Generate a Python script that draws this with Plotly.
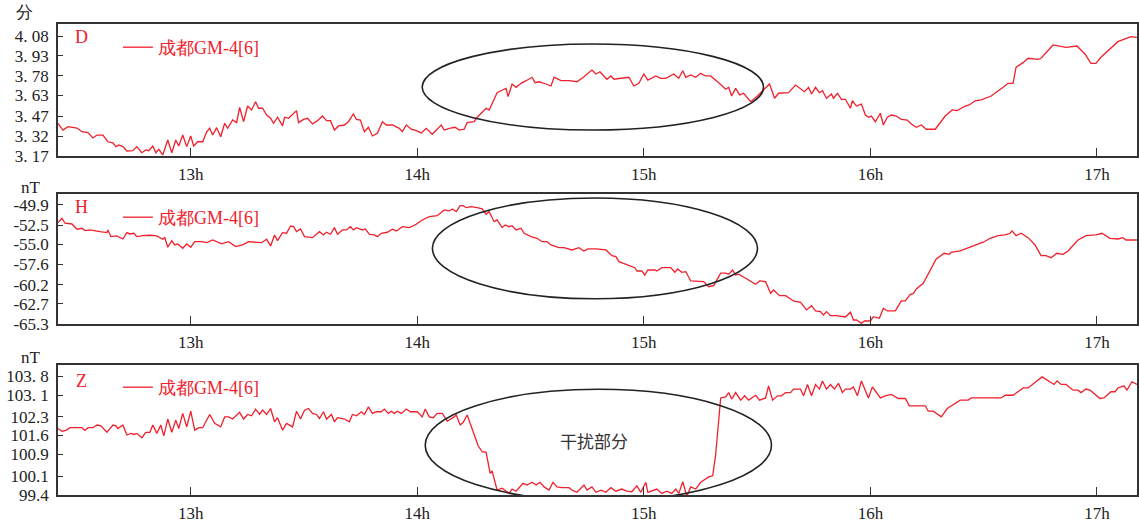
import plotly.graph_objects as go
from plotly.subplots import make_subplots

# ---- data (time in minutes after 12:00) ----
D_time = [24.85, 26.17, 27.49, 29.87, 31.19, 32.78, 34.10, 35.16, 36.74, 38.06, 39.39, 40.18, 40.97, 42.03, 43.09, 44.67, 45.73, 47.05, 48.11, 48.90, 49.96, 50.75, 51.54, 52.60, 53.92, 54.98, 56.04, 56.83, 57.89, 58.94, 60.00, 60.79, 61.85, 63.17, 64.23, 65.02, 65.82, 66.87, 67.93, 68.99, 69.78, 71.10, 72.16, 72.95, 74.01, 75.07, 76.12, 77.18, 77.97, 79.03, 80.09, 81.15, 81.94, 82.99, 84.32, 84.85, 85.90, 88.02, 88.55, 89.87, 90.93, 92.25, 93.57, 94.89, 95.95, 97.01, 98.06, 99.12, 100.71, 101.76, 103.08, 103.88, 104.93, 105.99, 107.05, 108.11, 109.43, 110.75, 111.81, 113.39, 115.24, 116.03, 117.09, 118.41, 119.73, 121.06, 122.38, 123.96, 126.34, 127.13, 128.46, 130.04, 131.10, 132.42, 133.21, 135.06, 135.86, 138.23, 139.03, 141.14, 143.00, 143.52, 144.05, 145.11, 146.16, 147.48, 148.81, 150.39, 151.19, 152.24, 154.09, 155.41, 156.21, 158.06, 160.17, 162.29, 164.14, 166.25, 167.31, 168.37, 170.22, 171.27, 172.07, 174.18, 176.03, 177.35, 178.68, 180.00, 181.06, 183.17, 184.49, 185.81, 187.92, 189.24, 190.30, 191.09, 192.42, 193.74, 195.06, 196.38, 197.70, 199.82, 201.67, 202.46, 203.25, 204.31, 205.37, 206.42, 208.27, 209.86, 211.97, 213.29, 214.62, 215.67, 218.32, 220.17, 222.55, 223.61, 224.40, 225.46, 226.51, 227.31, 228.36, 229.69, 230.21, 231.27, 232.33, 233.38, 234.70, 235.23, 236.29, 237.61, 238.67, 239.46, 240.25, 241.31, 242.63, 243.43, 244.48, 245.54, 246.86, 248.18, 249.77, 250.83, 252.15, 253.47, 254.79, 257.17, 259.81, 261.66, 262.98, 265.10, 266.15, 267.74, 269.33, 271.97, 275.14, 276.46, 277.78, 278.58, 280.43, 281.75, 284.39, 285.19, 288.36, 289.68, 291.80, 294.70, 296.82, 298.40, 299.72, 301.05, 305.54, 308.98, 310.57]
D_val = [3.418, 3.367, 3.392, 3.382, 3.354, 3.347, 3.307, 3.329, 3.329, 3.278, 3.269, 3.241, 3.254, 3.241, 3.208, 3.210, 3.241, 3.195, 3.216, 3.210, 3.246, 3.195, 3.221, 3.178, 3.291, 3.195, 3.291, 3.246, 3.329, 3.241, 3.322, 3.246, 3.278, 3.278, 3.354, 3.380, 3.329, 3.385, 3.316, 3.418, 3.380, 3.443, 3.423, 3.539, 3.430, 3.549, 3.519, 3.582, 3.532, 3.532, 3.481, 3.456, 3.418, 3.464, 3.398, 3.464, 3.456, 3.514, 3.423, 3.448, 3.456, 3.413, 3.438, 3.473, 3.438, 3.438, 3.367, 3.398, 3.405, 3.430, 3.489, 3.448, 3.443, 3.354, 3.388, 3.322, 3.342, 3.430, 3.405, 3.405, 3.380, 3.354, 3.405, 3.373, 3.362, 3.345, 3.380, 3.335, 3.405, 3.367, 3.380, 3.388, 3.367, 3.373, 3.423, 3.430, 3.464, 3.532, 3.519, 3.650, 3.676, 3.683, 3.620, 3.716, 3.691, 3.721, 3.741, 3.767, 3.726, 3.733, 3.716, 3.701, 3.767, 3.741, 3.741, 3.733, 3.771, 3.822, 3.792, 3.809, 3.752, 3.777, 3.752, 3.759, 3.767, 3.701, 3.721, 3.792, 3.746, 3.777, 3.759, 3.759, 3.792, 3.759, 3.817, 3.767, 3.784, 3.767, 3.797, 3.777, 3.777, 3.726, 3.676, 3.691, 3.625, 3.683, 3.633, 3.646, 3.582, 3.620, 3.676, 3.716, 3.608, 3.646, 3.650, 3.708, 3.658, 3.691, 3.640, 3.691, 3.650, 3.665, 3.608, 3.640, 3.608, 3.646, 3.600, 3.600, 3.532, 3.589, 3.549, 3.564, 3.481, 3.464, 3.473, 3.430, 3.494, 3.405, 3.464, 3.481, 3.473, 3.448, 3.443, 3.413, 3.388, 3.405, 3.373, 3.373, 3.473, 3.519, 3.514, 3.549, 3.557, 3.589, 3.595, 3.625, 3.691, 3.721, 3.721, 3.843, 3.878, 3.911, 3.903, 3.911, 4.012, 4.004, 3.994, 4.004, 3.944, 3.873, 3.873, 3.919, 4.037, 4.075, 4.070]

H_time = [24.85, 25.91, 26.70, 28.55, 29.87, 31.19, 31.99, 33.31, 35.95, 37.80, 38.06, 38.86, 40.44, 42.03, 43.09, 43.88, 44.94, 45.73, 47.31, 49.17, 51.02, 52.60, 53.13, 53.92, 54.98, 55.77, 56.57, 57.89, 58.94, 60.00, 61.06, 62.91, 64.23, 65.82, 68.19, 70.04, 71.89, 73.74, 75.33, 77.45, 78.77, 80.09, 81.15, 82.20, 82.99, 84.32, 85.38, 86.43, 87.22, 88.02, 89.08, 90.13, 92.25, 94.10, 95.15, 95.95, 97.01, 98.06, 98.86, 100.18, 101.23, 102.29, 103.08, 103.88, 105.46, 106.26, 107.31, 108.63, 109.43, 110.48, 112.07, 113.39, 114.45, 116.03, 117.88, 119.73, 121.32, 123.17, 125.28, 127.13, 128.46, 129.25, 130.31, 131.36, 132.16, 132.95, 134.27, 135.86, 137.18, 138.23, 139.03, 140.35, 141.14, 142.46, 143.26, 144.31, 145.11, 146.16, 147.48, 148.28, 150.13, 151.71, 153.04, 154.36, 155.41, 157.53, 158.85, 160.96, 162.81, 164.14, 165.19, 167.31, 169.95, 171.54, 172.60, 173.39, 175.24, 177.62, 178.15, 179.47, 180.26, 181.06, 182.91, 183.43, 184.76, 187.14, 188.19, 188.99, 190.04, 191.10, 192.42, 193.74, 195.06, 195.85, 197.17, 198.50, 200.35, 201.67, 202.46, 203.52, 204.31, 205.11, 206.96, 209.60, 210.66, 212.24, 213.56, 214.35, 215.94, 217.53, 219.64, 221.49, 223.08, 224.40, 225.46, 226.78, 227.57, 228.37, 229.43, 231.01, 233.39, 234.71, 235.51, 236.30, 237.62, 238.41, 240.00, 240.79, 242.38, 243.43, 244.49, 246.60, 248.19, 249.25, 250.57, 251.36, 252.15, 253.99, 257.43, 259.54, 260.87, 261.40, 263.77, 268.01, 269.86, 271.71, 273.82, 275.67, 276.99, 277.52, 278.58, 279.90, 281.75, 283.60, 285.19, 286.51, 287.84, 289.42, 291.01, 292.33, 294.97, 297.09, 299.73, 301.32, 303.43, 305.55, 306.87, 307.66, 310.57]
H_val = [-52.19, -51.62, -52.26, -52.36, -53.04, -52.91, -53.22, -53.13, -53.35, -53.48, -53.13, -54.00, -53.91, -54.30, -53.48, -53.65, -53.56, -54.00, -53.87, -53.82, -53.91, -54.34, -54.13, -55.37, -54.52, -55.07, -54.94, -55.50, -54.94, -55.37, -54.65, -54.65, -54.78, -54.43, -54.94, -54.65, -55.29, -55.07, -54.65, -54.72, -54.78, -54.34, -55.20, -53.78, -54.52, -53.48, -53.56, -52.62, -52.71, -53.35, -53.00, -54.00, -54.13, -53.35, -53.78, -53.43, -53.69, -52.83, -53.69, -53.13, -53.13, -52.71, -53.13, -52.83, -53.13, -53.00, -53.69, -53.78, -54.00, -53.56, -53.43, -53.04, -53.26, -52.71, -52.83, -52.39, -51.84, -51.41, -51.28, -50.54, -50.67, -50.41, -50.76, -49.99, -49.99, -50.25, -50.12, -50.25, -50.41, -51.10, -50.76, -52.06, -51.84, -52.83, -52.49, -52.71, -52.58, -53.13, -52.91, -53.56, -54.00, -54.21, -54.65, -54.65, -55.07, -55.42, -55.42, -55.72, -55.42, -55.85, -55.59, -55.59, -55.72, -56.46, -56.59, -57.23, -57.57, -58.01, -58.44, -58.44, -58.96, -58.31, -58.31, -58.44, -58.01, -58.01, -58.61, -58.18, -58.61, -58.53, -59.73, -59.73, -59.82, -59.82, -60.47, -60.34, -58.73, -58.73, -58.86, -58.31, -58.96, -58.86, -59.38, -60.16, -59.73, -59.82, -61.32, -60.90, -61.63, -61.63, -62.32, -62.49, -63.48, -62.93, -63.61, -63.70, -64.13, -63.70, -64.22, -64.22, -64.39, -63.78, -64.78, -64.78, -65.21, -64.91, -64.91, -64.35, -64.56, -63.26, -63.61, -63.61, -62.32, -62.32, -61.45, -61.37, -60.77, -60.03, -56.88, -56.15, -56.28, -56.02, -55.85, -55.07, -54.72, -54.21, -53.87, -53.78, -53.56, -53.26, -53.87, -53.56, -54.13, -55.07, -56.46, -56.46, -56.72, -56.15, -56.28, -55.85, -54.43, -53.87, -53.78, -53.56, -54.21, -54.30, -54.13, -54.43, -54.43]

Z_time = [24.85, 25.91, 26.96, 28.02, 31.19, 31.99, 32.78, 34.10, 35.16, 36.21, 37.80, 39.39, 40.18, 40.71, 42.03, 43.09, 44.14, 44.94, 45.73, 47.05, 48.11, 49.17, 49.96, 51.02, 52.07, 52.87, 53.92, 54.98, 56.04, 56.83, 57.89, 58.94, 60.00, 61.06, 62.12, 63.17, 65.02, 66.34, 67.93, 68.99, 70.04, 71.10, 72.95, 74.01, 75.07, 76.12, 77.18, 78.24, 79.03, 80.09, 81.15, 82.20, 82.99, 84.32, 85.38, 86.96, 88.02, 89.08, 90.13, 91.19, 92.25, 93.31, 94.10, 95.15, 95.95, 97.27, 98.06, 98.86, 100.71, 102.03, 102.82, 103.88, 105.20, 105.99, 107.05, 108.11, 109.16, 110.48, 111.28, 112.33, 113.13, 113.92, 114.71, 115.77, 117.09, 118.15, 120.00, 121.32, 122.11, 123.17, 124.23, 125.28, 126.61, 127.93, 129.78, 130.31, 131.37, 132.16, 133.21, 136.12, 137.18, 138.23, 139.29, 139.82, 141.14, 142.46, 144.31, 145.11, 146.16, 146.96, 148.01, 149.07, 150.39, 151.45, 152.51, 153.57, 154.89, 155.94, 157.00, 158.32, 160.17, 160.97, 162.29, 164.14, 164.93, 166.25, 167.31, 168.63, 169.95, 171.27, 172.60, 174.18, 175.50, 176.82, 178.15, 179.21, 180.53, 181.06, 182.65, 183.44, 184.76, 186.08, 187.40, 188.46, 189.25, 190.31, 191.10, 191.36, 192.42, 193.74, 195.06, 196.38, 197.17, 198.23, 199.02, 200.35, 201.67, 202.46, 203.26, 204.31, 205.64, 206.69, 207.75, 209.60, 210.66, 212.24, 213.03, 214.09, 215.41, 216.47, 217.53, 218.85, 219.64, 221.49, 222.28, 223.34, 224.40, 225.46, 226.51, 227.31, 228.37, 229.42, 230.48, 231.54, 232.60, 233.39, 234.71, 235.51, 236.56, 237.62, 238.41, 239.47, 240.53, 242.64, 243.96, 245.55, 247.40, 249.25, 250.31, 254.54, 255.33, 256.65, 258.77, 260.35, 263.79, 265.90, 266.70, 274.63, 275.69, 277.80, 280.44, 281.76, 285.46, 288.64, 289.43, 290.49, 291.81, 293.66, 294.98, 295.78, 297.10, 298.16, 300.80, 301.86, 303.71, 304.77, 305.56, 307.15, 307.94, 309.26, 310.58]
Z_val = [101.86, 101.76, 101.79, 101.89, 101.89, 101.79, 101.89, 101.89, 101.99, 101.96, 101.72, 101.99, 101.96, 101.86, 101.99, 101.62, 101.68, 101.64, 101.68, 101.52, 101.72, 101.72, 101.99, 101.68, 101.99, 101.59, 102.21, 101.72, 102.17, 101.86, 102.42, 101.92, 102.50, 101.80, 101.89, 101.89, 102.38, 102.05, 101.92, 102.29, 102.29, 102.21, 102.46, 102.21, 102.38, 102.33, 102.58, 102.38, 102.54, 102.38, 102.60, 102.11, 102.26, 101.80, 102.05, 101.92, 102.50, 102.21, 102.54, 102.60, 102.42, 102.38, 102.23, 102.48, 102.21, 102.38, 102.11, 102.26, 102.21, 102.11, 102.38, 102.33, 102.48, 102.38, 102.66, 102.42, 102.48, 102.48, 102.58, 102.42, 102.50, 102.42, 102.50, 102.42, 102.58, 102.48, 102.48, 102.29, 102.58, 102.29, 102.26, 102.42, 102.42, 102.13, 102.29, 102.36, 101.99, 102.09, 102.36, 101.22, 101.00, 100.98, 100.20, 100.29, 99.58, 99.65, 99.46, 99.62, 99.54, 99.65, 99.83, 99.77, 99.87, 99.77, 99.87, 99.70, 99.58, 99.87, 99.70, 99.67, 99.67, 99.58, 99.50, 99.77, 99.58, 99.70, 99.50, 99.58, 99.50, 99.67, 99.54, 99.62, 99.54, 99.52, 99.74, 99.50, 99.87, 99.50, 99.58, 99.62, 99.46, 99.54, 99.46, 99.62, 99.46, 99.89, 99.50, 99.35, 99.70, 99.62, 99.87, 99.99, 100.07, 100.11, 100.90, 102.99, 103.03, 103.19, 102.95, 103.19, 102.91, 103.07, 102.91, 103.09, 102.91, 102.99, 103.44, 102.91, 103.07, 103.07, 103.19, 103.19, 103.32, 103.32, 103.07, 103.49, 103.07, 103.49, 103.32, 103.62, 103.32, 103.49, 103.32, 103.53, 103.19, 103.32, 103.32, 103.40, 103.07, 103.62, 103.32, 102.99, 103.40, 102.99, 103.07, 103.12, 102.97, 102.97, 102.70, 102.70, 102.50, 102.50, 102.29, 102.60, 102.91, 102.91, 102.99, 102.99, 103.09, 103.09, 103.36, 103.36, 103.77, 103.49, 103.62, 103.49, 103.49, 103.28, 103.28, 103.19, 103.32, 103.28, 102.97, 102.99, 103.22, 103.22, 103.36, 103.44, 103.28, 103.59, 103.49]

x_tickvals = [60, 120, 180, 240, 300]
x_ticktext = ["13h", "14h", "15h", "16h", "17h"]

D_ticks = [3.17, 3.32, 3.47, 3.63, 3.78, 3.93, 4.08]
D_ticktext = ["3. 17", "3. 32", "3. 47", "3. 63", "3. 78", "3. 93", "4. 08"]
H_ticks = [-65.3, -62.7, -60.2, -57.6, -55.0, -52.5, -49.9]
H_ticktext = ["-65.3", "-62.7", "-60.2", "-57.6", "-55.0", "-52.5", "-49.9"]
Z_ticks = [99.4, 100.1, 100.9, 101.6, 102.3, 103.1, 103.8]
Z_ticktext = ["99.4", "100.1", "100.9", "101.6", "102.3", "103. 1", "103. 8"]

panel_letters = ["D", "H", "Z"]
unit_labels = ["分", "nT", "nT"]
series_name = "成都GM-4[6]"
note_text = "干扰部分"

RED = "#f0202c"
AX = "#333333"
SERIF = "Liberation Serif"

fig = make_subplots(rows=3, cols=1, vertical_spacing=0.08)

series = [(D_time, D_val), (H_time, H_val), (Z_time, Z_val)]
legends = ["legend", "legend2", "legend3"]
for i, (t, v) in enumerate(series):
    fig.add_trace(go.Scatter(x=t, y=v, mode="lines", name=series_name,
                             line=dict(color=RED, width=1.3),
                             legend=legends[i], showlegend=True),
                  row=i + 1, col=1)

W, Hh = 1139, 526
ml, mr, mt, mb = 58, 0, 24, 31
plot_h = Hh - mt - mb
def py(px):
    return (Hh - mb - px) / plot_h
def px_(x):
    return (x - ml) / (W - ml)

domains = [(py(156), py(24)), (py(324), py(194)), (py(495), py(365))]
yranges = [[3.17, 4.171], [-65.3, -48.48], [99.4, 104.21]]
yticks = [(D_ticks, D_ticktext), (H_ticks, H_ticktext), (Z_ticks, Z_ticktext)]

for i in range(3):
    xa = "xaxis" if i == 0 else f"xaxis{i+1}"
    ya = "yaxis" if i == 0 else f"yaxis{i+1}"
    fig.layout[xa].update(range=[24.85, 310.6], tickvals=x_tickvals, ticktext=x_ticktext,
                          ticks="inside", ticklen=8, tickwidth=1.2, tickcolor=AX,
                          showline=True, linecolor=AX, linewidth=1.6, mirror=True,
                          showgrid=False, zeroline=False,
                          tickfont=dict(family=SERIF, size=17, color="#222"),
                          ticklabelstandoff=2)
    fig.layout[ya].update(domain=list(domains[i]), range=yranges[i],
                          tickvals=yticks[i][0], ticktext=yticks[i][1],
                          ticks="inside", ticklen=5, tickwidth=1.2, tickcolor=AX,
                          showline=True, linecolor=AX, linewidth=1.6, mirror=True,
                          showgrid=False, zeroline=False,
                          tickfont=dict(family=SERIF, size=17, color="#222"),
                          ticklabelstandoff=4)

# legends
leg_y = [py(29), py(199), py(369)]
for i, lg in enumerate(legends):
    fig.layout[lg] = dict(x=px_(118), y=leg_y[i], xanchor="left", yanchor="top",
                          bgcolor="rgba(0,0,0,0)", borderwidth=0,
                          font=dict(family=SERIF, size=18, color=RED),
                          itemwidth=30)

# panel letters and unit labels
letter_y = [37, 207, 381]
unit_y = [12, 187, 357]
unit_x = [24, 31, 31]
for i in range(3):
    fig.add_annotation(x=px_(82), y=py(letter_y[i]), xref="paper", yref="paper",
                       xanchor="center", yanchor="middle",
                       text=panel_letters[i], showarrow=False,
                       font=dict(family=SERIF, size=18, color=RED))
    fig.add_annotation(x=px_(unit_x[i]), y=py(unit_y[i]), xref="paper", yref="paper",
                       xanchor="center", yanchor="middle",
                       text=unit_labels[i], showarrow=False,
                       font=dict(family=SERIF, size=17, color="#222"))

# ellipses around the disturbed interval
ell = dict(color="#222", width=1.6)
fig.add_shape(type="circle", xref="x", yref="y", x0=121.3, x1=211.7, y0=3.367, y1=4.019, line=ell)
fig.add_shape(type="circle", xref="x2", yref="y2", x0=124.0, x1=210.1, y0=-62.04, y1=-48.99, line=ell)
fig.add_shape(type="circle", xref="x3", yref="y3", x0=122.1, x1=213.8, y0=99.18, y1=103.31, line=ell)
fig.add_annotation(x=166.8, y=101.43, xref="x3", yref="y3", text=note_text, showarrow=False,
                   xanchor="center", yanchor="middle",
                   font=dict(family="Noto Sans CJK SC", size=17, color="#333"))

fig.update_layout(width=W, height=Hh, margin=dict(l=ml, r=mr, t=mt, b=mb),
                  plot_bgcolor="white", paper_bgcolor="white")

fig.write_html("out.html")
